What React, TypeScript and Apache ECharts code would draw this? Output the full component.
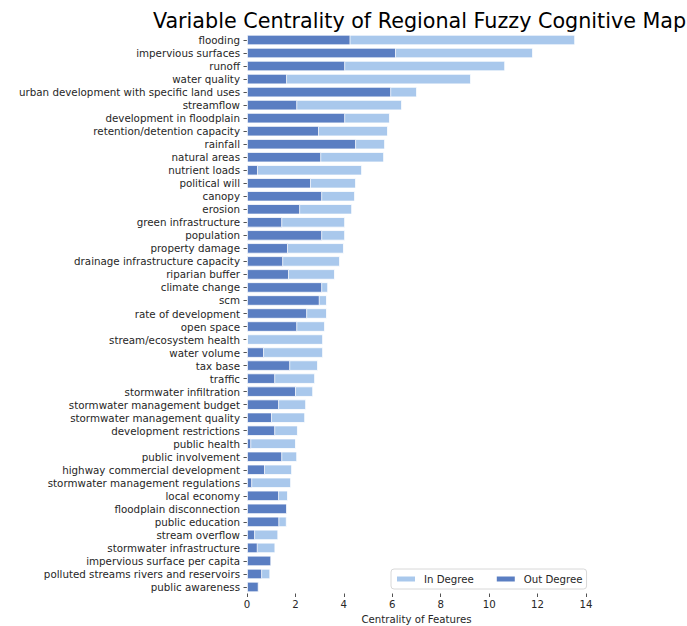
import React, { useEffect, useRef } from "react";
import * as echarts from "echarts";

const categories = [
  "flooding",
  "impervious surfaces",
  "runoff",
  "water quality",
  "urban development with specific land uses",
  "streamflow",
  "development in floodplain",
  "retention/detention capacity",
  "rainfall",
  "natural areas",
  "nutrient loads",
  "political will",
  "canopy",
  "erosion",
  "green infrastructure",
  "population",
  "property damage",
  "drainage infrastructure capacity",
  "riparian buffer",
  "climate change",
  "scm",
  "rate of development",
  "open space",
  "stream/ecosystem health",
  "water volume",
  "tax base",
  "traffic",
  "stormwater infiltration",
  "stormwater management budget",
  "stormwater management quality",
  "development restrictions",
  "public health",
  "public involvement",
  "highway commercial development",
  "stormwater management regulations",
  "local economy",
  "floodplain disconnection",
  "public education",
  "stream overflow",
  "stormwater infrastructure",
  "impervious surface per capita",
  "polluted streams rivers and reservoirs",
  "public awareness",
];

const inDegree = [
  13.55, 11.81, 10.66, 9.25, 7.02, 6.4, 5.9, 5.82, 5.7, 5.66, 4.75, 4.5, 4.46,
  4.34, 4.05, 4.05, 4.0, 3.84, 3.63, 3.35, 3.3, 3.3, 3.22, 3.14, 3.14, 2.93,
  2.81, 2.73, 2.44, 2.4, 2.1, 2.02, 2.07, 1.86, 1.82, 1.69, 1.62, 1.64, 1.29,
  1.17, 0.9, 0.96, 0.35,
];

const outDegree = [
  4.27, 6.15, 4.05, 1.65, 5.95, 2.07, 4.05, 2.97, 4.5, 3.06, 0.45, 2.64, 3.1,
  2.19, 1.45, 3.1, 1.69, 1.49, 1.73, 3.1, 3.0, 2.48, 2.07, 0, 0.7, 1.78, 1.16,
  2.02, 1.32, 1.03, 1.16, 0.17, 1.45, 0.74, 0.21, 1.32, 1.65, 1.33, 0.33, 0.44,
  1.0, 0.62, 0.48,
];

const xTicks = { min: 0, max: 14, interval: 2 };

const LIGHT = "#a9c8ec";
const DARK = "#5a7ec2";
const TEXT = "#262626";
const FONT = "DejaVu Sans";

export default function App() {
  const ref = useRef<HTMLDivElement>(null);
  useEffect(() => {
    if (!ref.current) return;
    const chart = echarts.init(ref.current, null, { renderer: "svg" });
    chart.setOption({
      animation: false,
      backgroundColor: "#ffffff",
      textStyle: { fontFamily: FONT, color: TEXT },
      graphic: [
        {
          type: "text",
          x: 419.5,
          y: 21,
          style: {
            text: "Variable Centrality of Regional Fuzzy Cognitive Map",
            fontFamily: FONT,
            fontSize: 20.7,
            fill: "#000",
            textAlign: "center",
            textVerticalAlign: "middle",
          },
        },
      ],
      legend: {
        left: 391,
        top: 569,
        orient: "horizontal",
        itemWidth: 20,
        itemHeight: 7,
        itemGap: 21,
        padding: [5, 4, 5, 4],
        borderColor: "#d8d8d8",
        borderWidth: 1,
        borderRadius: 3,
        backgroundColor: "#fff",
        textStyle: {
          fontFamily: FONT,
          fontSize: 10.2,
          color: TEXT,
          padding: [0, 0, 0, 3],
        },
        data: [
          { name: "In Degree", icon: "rect" },
          { name: "Out Degree", icon: "rect" },
        ],
      },
      grid: {
        left: 247,
        right: 101,
        top: 33.5,
        bottom: 32.5,
        containLabel: false,
        outerBoundsMode: "none",
      },
      xAxis: {
        type: "value",
        min: xTicks.min,
        max: xTicks.max,
        interval: xTicks.interval,
        name: "Centrality of Features",
        nameLocation: "middle",
        nameGap: 21,
        nameTextStyle: { fontFamily: FONT, fontSize: 10.2, color: TEXT },
        axisLine: { show: false },
        axisTick: { show: true, length: 3.5, lineStyle: { color: TEXT, width: 0.8 } },
        axisLabel: { fontFamily: FONT, fontSize: 10.2, color: TEXT, margin: 6 },
        splitLine: { show: false },
      },
      yAxis: {
        type: "category",
        data: categories,
        inverse: true,
        axisLine: { show: false },
        axisTick: {
          show: true,
          alignWithLabel: true,
          interval: 0,
          length: 3.5,
          lineStyle: { color: TEXT, width: 0.8 },
        },
        axisLabel: {
          interval: 0,
          fontFamily: FONT,
          fontSize: 10.3,
          color: TEXT,
          margin: 7,
        },
        splitLine: { show: false },
      },
      series: [
        {
          name: "In Degree",
          type: "bar",
          data: inDegree,
          barCategoryGap: "20%",
          barGap: "-100%",
          itemStyle: { color: LIGHT, borderColor: "#fff", borderWidth: 0.8 },
        },
        {
          name: "Out Degree",
          type: "bar",
          data: outDegree,
          barCategoryGap: "20%",
          barGap: "-100%",
          itemStyle: { color: DARK, borderColor: "#fff", borderWidth: 0.8 },
        },
      ],
    });
    return () => chart.dispose();
  }, []);
  return (
    <div
      ref={ref}
      style={{ position: "fixed", left: 0, top: 0, width: 687, height: 626 }}
    />
  );
}
